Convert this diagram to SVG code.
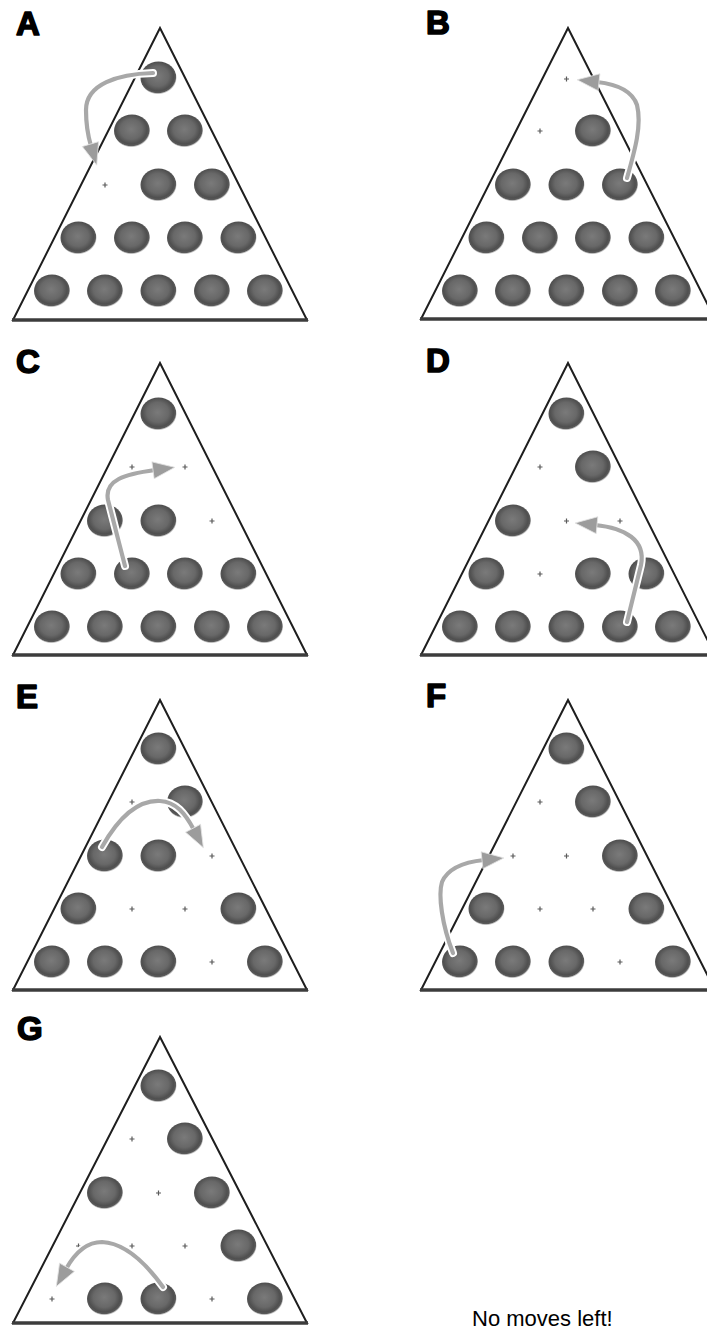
<svg xmlns="http://www.w3.org/2000/svg" xmlns:xlink="http://www.w3.org/1999/xlink" width="707" height="1332" viewBox="0 0 707 1332">
<style>
.board{fill:#fff;stroke:#1e1e1e;stroke-width:2;stroke-linejoin:miter}
.base{stroke:#3c3c3c;stroke-width:3.5;fill:none}
.lbl{font-family:"Liberation Sans",Arial,sans-serif;font-weight:bold;font-size:33px;fill:#000;stroke:#000;stroke-width:1.6;stroke-linejoin:round}
.note{font-family:"Liberation Sans",Arial,sans-serif;font-size:22px;fill:#000}
.under{fill:none;stroke:#fff;stroke-width:8;stroke-linecap:round;stroke-linejoin:round}
.arr{fill:none;stroke:#a8a8a8;stroke-width:4.2;stroke-linecap:round;stroke-linejoin:round;marker-end:url(#head)}
</style>
<defs>
<radialGradient id="bg" cx="0.48" cy="0.45" r="0.55">
<stop offset="0" stop-color="#7a7a7a"/>
<stop offset="0.55" stop-color="#686868"/>
<stop offset="0.8" stop-color="#4f4f4f"/>
<stop offset="0.9" stop-color="#5a5a5a"/>
<stop offset="1" stop-color="#bdbdbd" stop-opacity="0"/>
</radialGradient>
<ellipse id="ball" rx="18" ry="16.5" fill="url(#bg)"/>
<path id="dot" d="M-2.5,0h5M0,-2.5v5" stroke="#5a5a5a" stroke-width="1.2"/>
<marker id="head" markerUnits="userSpaceOnUse" markerWidth="28" markerHeight="24" refX="3" refY="10" orient="auto">
<path d="M1,1.5 L23,10 L1,18.5 Z" fill="#9c9c9c" stroke="#e4e4e4" stroke-width="0.8"/>
</marker>
</defs>
<rect width="707" height="1332" fill="#fff"/>

<g id="panel-A">
<polygon class="board" points="160,28 13,320 307,320"/>
<line class="base" x1="12" y1="320" x2="308" y2="320"/>
<text class="lbl" x="16" y="35">A</text>
<use xlink:href="#ball" x="158.5" y="78"/>
<use xlink:href="#ball" x="132" y="131"/><use xlink:href="#ball" x="185" y="131"/>
<use xlink:href="#dot" x="105" y="185"/><use xlink:href="#ball" x="158.5" y="185"/><use xlink:href="#ball" x="212" y="185"/>
<use xlink:href="#ball" x="78.5" y="238"/><use xlink:href="#ball" x="132" y="238"/><use xlink:href="#ball" x="185" y="238"/><use xlink:href="#ball" x="238.5" y="238"/>
<use xlink:href="#ball" x="52" y="291"/><use xlink:href="#ball" x="105" y="291"/><use xlink:href="#ball" x="158.5" y="291"/><use xlink:href="#ball" x="212" y="291"/><use xlink:href="#ball" x="265" y="291"/>
</g>

<g id="panel-B">
<polygon class="board" points="568,28 421,319 715,319"/>
<line class="base" x1="420" y1="319" x2="716" y2="319"/>
<text class="lbl" x="426" y="34">B</text>
<use xlink:href="#dot" x="566.5" y="79"/>
<use xlink:href="#dot" x="540" y="131"/><use xlink:href="#ball" x="593" y="131"/>
<use xlink:href="#ball" x="513" y="185"/><use xlink:href="#ball" x="566.5" y="185"/><use xlink:href="#ball" x="620" y="185"/>
<use xlink:href="#ball" x="486.5" y="238"/><use xlink:href="#ball" x="540" y="238"/><use xlink:href="#ball" x="593" y="238"/><use xlink:href="#ball" x="646.5" y="238"/>
<use xlink:href="#ball" x="460" y="291"/><use xlink:href="#ball" x="513" y="291"/><use xlink:href="#ball" x="566.5" y="291"/><use xlink:href="#ball" x="620" y="291"/><use xlink:href="#ball" x="673" y="291"/>
</g>

<g id="panel-C">
<polygon class="board" points="160,363 13,655 307,655"/>
<line class="base" x1="12" y1="655" x2="308" y2="655"/>
<text class="lbl" x="16" y="373">C</text>
<use xlink:href="#ball" x="158.5" y="414"/>
<use xlink:href="#dot" x="132" y="467"/><use xlink:href="#dot" x="185" y="467"/>
<use xlink:href="#ball" x="105" y="521"/><use xlink:href="#ball" x="158.5" y="521"/><use xlink:href="#dot" x="212" y="521"/>
<use xlink:href="#ball" x="78.5" y="574"/><use xlink:href="#ball" x="132" y="574"/><use xlink:href="#ball" x="185" y="574"/><use xlink:href="#ball" x="238.5" y="574"/>
<use xlink:href="#ball" x="52" y="627"/><use xlink:href="#ball" x="105" y="627"/><use xlink:href="#ball" x="158.5" y="627"/><use xlink:href="#ball" x="212" y="627"/><use xlink:href="#ball" x="265" y="627"/>
</g>

<g id="panel-D">
<polygon class="board" points="568,363 421,655 715,655"/>
<line class="base" x1="420" y1="655" x2="716" y2="655"/>
<text class="lbl" x="426" y="372">D</text>
<use xlink:href="#ball" x="566.5" y="414"/>
<use xlink:href="#dot" x="540" y="467"/><use xlink:href="#ball" x="593" y="467"/>
<use xlink:href="#ball" x="513" y="521"/><use xlink:href="#dot" x="566.5" y="521"/><use xlink:href="#dot" x="620" y="521"/>
<use xlink:href="#ball" x="486.5" y="574"/><use xlink:href="#dot" x="540" y="574"/><use xlink:href="#ball" x="593" y="574"/><use xlink:href="#ball" x="646.5" y="574"/>
<use xlink:href="#ball" x="460" y="627"/><use xlink:href="#ball" x="513" y="627"/><use xlink:href="#ball" x="566.5" y="627"/><use xlink:href="#ball" x="620" y="627"/><use xlink:href="#ball" x="673" y="627"/>
</g>

<g id="panel-E">
<polygon class="board" points="160,700 13,990 307,990"/>
<line class="base" x1="12" y1="990" x2="308" y2="990"/>
<text class="lbl" x="16" y="708">E</text>
<use xlink:href="#ball" x="158.5" y="749"/>
<use xlink:href="#dot" x="132" y="802"/><use xlink:href="#ball" x="185" y="802"/>
<use xlink:href="#ball" x="105" y="856"/><use xlink:href="#ball" x="158.5" y="856"/><use xlink:href="#dot" x="212" y="856"/>
<use xlink:href="#ball" x="78.5" y="909"/><use xlink:href="#dot" x="132" y="909"/><use xlink:href="#dot" x="185" y="909"/><use xlink:href="#ball" x="238.5" y="909"/>
<use xlink:href="#ball" x="52" y="962"/><use xlink:href="#ball" x="105" y="962"/><use xlink:href="#ball" x="158.5" y="962"/><use xlink:href="#dot" x="212" y="962"/><use xlink:href="#ball" x="265" y="962"/>
</g>

<g id="panel-F">
<polygon class="board" points="568,700 421,990 715,990"/>
<line class="base" x1="420" y1="990" x2="716" y2="990"/>
<text class="lbl" x="426" y="707">F</text>
<use xlink:href="#ball" x="566.5" y="749"/>
<use xlink:href="#dot" x="540" y="802"/><use xlink:href="#ball" x="593" y="802"/>
<use xlink:href="#dot" x="513" y="856"/><use xlink:href="#dot" x="566.5" y="856"/><use xlink:href="#ball" x="620" y="856"/>
<use xlink:href="#ball" x="486.5" y="909"/><use xlink:href="#dot" x="540" y="909"/><use xlink:href="#dot" x="593" y="909"/><use xlink:href="#ball" x="646.5" y="909"/>
<use xlink:href="#ball" x="460" y="962"/><use xlink:href="#ball" x="513" y="962"/><use xlink:href="#ball" x="566.5" y="962"/><use xlink:href="#dot" x="620" y="962"/><use xlink:href="#ball" x="673" y="962"/>
</g>

<g id="panel-G">
<polygon class="board" points="160,1037 13,1323 307,1323"/>
<line class="base" x1="12" y1="1323" x2="308" y2="1323"/>
<text class="lbl" x="17" y="1040">G</text>
<use xlink:href="#ball" x="158.5" y="1086"/>
<use xlink:href="#dot" x="132" y="1139"/><use xlink:href="#ball" x="185" y="1139"/>
<use xlink:href="#ball" x="105" y="1193"/><use xlink:href="#dot" x="158.5" y="1193"/><use xlink:href="#ball" x="212" y="1193"/>
<use xlink:href="#dot" x="78.5" y="1246"/><use xlink:href="#dot" x="132" y="1246"/><use xlink:href="#dot" x="185" y="1246"/><use xlink:href="#ball" x="238.5" y="1246"/>
<use xlink:href="#dot" x="52" y="1299"/><use xlink:href="#ball" x="105" y="1299"/><use xlink:href="#ball" x="158.5" y="1299"/><use xlink:href="#dot" x="212" y="1299"/><use xlink:href="#ball" x="265" y="1299"/>
</g>

<g id="connectors">
<path class="under" d="M153,73 C118,74 86,84 86,110 C86,126 88,136 91,146"/>
<path class="arr" d="M153,73 C118,74 86,84 86,110 C86,126 88,136 91,146"/>
<path class="under" d="M627,178 C635,150 642,125 637,105 C632,90 615,84 597,82"/>
<path class="arr" d="M627,178 C635,150 642,125 637,105 C632,90 615,84 597,82"/>
<path class="under" d="M125,566 L108,500 C104,480 125,474 155,470"/>
<path class="arr" d="M125,566 L108,500 C104,480 125,474 155,470"/>
<path class="under" d="M627,622 L641,565 C646,540 625,528 595,525"/>
<path class="arr" d="M627,622 L641,565 C646,540 625,528 595,525"/>
<path class="under" d="M102,847 C120,815 140,800 160,801 C176,802 185,813 194,830"/>
<path class="arr" d="M102,847 C120,815 140,800 160,801 C176,802 185,813 194,830"/>
<path class="under" d="M453,953 C442,925 438,895 442,882 C448,868 465,862 484,860"/>
<path class="arr" d="M453,953 C442,925 438,895 442,882 C448,868 465,862 484,860"/>
<path class="under" d="M163,1287 C145,1262 125,1243 102,1242 C88,1242 76,1251 66,1269"/>
<path class="arr" d="M163,1287 C145,1262 125,1243 102,1242 C88,1242 76,1251 66,1269"/>
</g>

<text class="note" x="472" y="1326">No moves left!</text>
</svg>
